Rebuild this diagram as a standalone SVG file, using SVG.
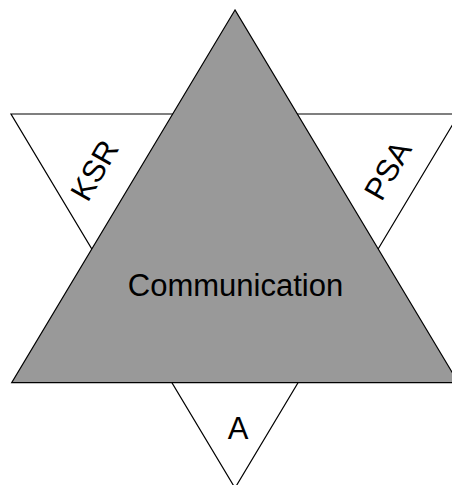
<svg xmlns="http://www.w3.org/2000/svg" width="452" height="485" viewBox="0 0 452 485">
<style>
.tri{stroke:#000;stroke-width:1.2;stroke-linejoin:miter}
.lbl{font-family:"Liberation Sans",Arial,sans-serif;font-size:31px;fill:#000}
</style>
<rect width="452" height="485" fill="#fff"/>
<g id="down-triangle">
<polygon class="tri" points="11,114 459,114 235,488" fill="#fff"/>
</g>
<g id="up-triangle">
<polygon class="tri" points="235,10 11.7,382.7 458.3,382.7" fill="#999999"/>
</g>
<g id="labels">
<text class="lbl" text-anchor="middle" transform="translate(103.7,175.6) rotate(-60)">KSR</text>
<text class="lbl" text-anchor="middle" transform="translate(397,175.6) rotate(-60)">PSA</text>
<text class="lbl" text-anchor="middle" x="235.5" y="296">Communication</text>
<text class="lbl" text-anchor="middle" x="238" y="439">A</text>
</g>
</svg>
